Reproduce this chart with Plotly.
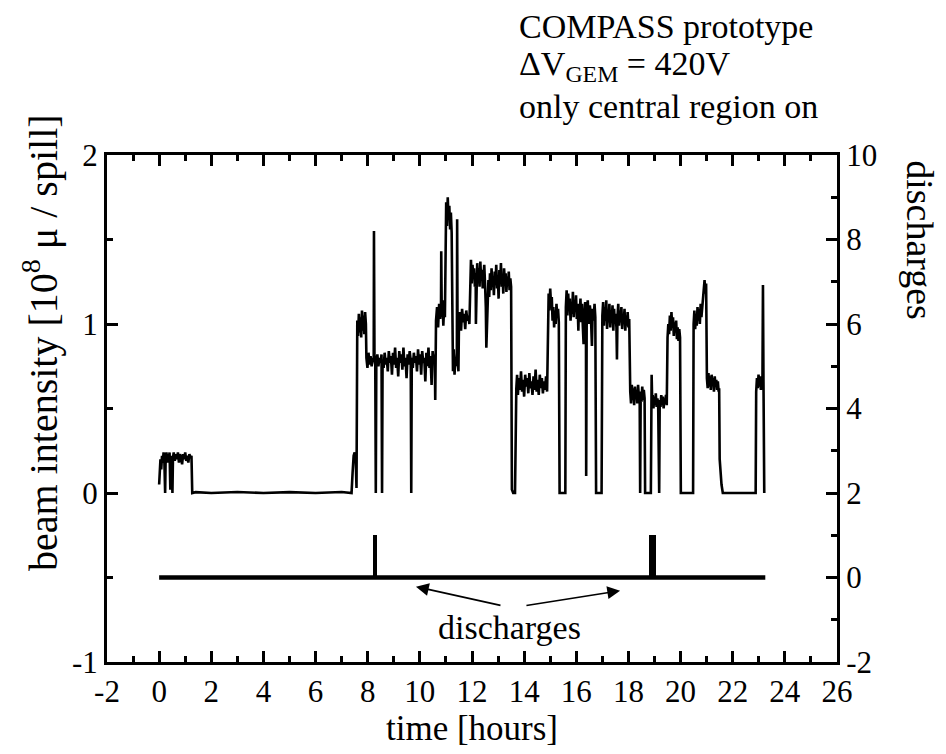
import plotly.graph_objects as go

# ---------------- data ----------------
# beam intensity [1e8 mu / spill] vs time [hours]
beam_trace = [
    (0.00, 0.05), (0.02, 0.17), (0.05, 0.20), (0.08, 0.14), (0.11, 0.22), (0.14, 0.18), (0.17, 0.24),
    (0.20, 0.19), (0.23, 0.00), (0.25, 0.21), (0.28, 0.24), (0.31, 0.18), (0.34, 0.23), (0.37, 0.20),
    (0.40, 0.24), (0.43, 0.02), (0.45, 0.22), (0.48, 0.19), (0.51, 0.00), (0.53, 0.21), (0.56, 0.24),
    (0.60, 0.19), (0.64, 0.23), (0.68, 0.20), (0.72, 0.24), (0.76, 0.18), (0.80, 0.23), (0.84, 0.21),
    (0.88, 0.17), (0.92, 0.23), (0.96, 0.20), (1.00, 0.24), (1.04, 0.19), (1.08, 0.22), (1.12, 0.18),
    (1.16, 0.23), (1.20, 0.21), (1.24, 0.22), (1.27, 0.00),
    (1.40, 0.005), (2.00, 0.00), (3.00, 0.006), (4.00, 0.00), (5.00, 0.005), (6.00, 0.00), (7.00, 0.006),
    (7.38, 0.00), (7.42, 0.12), (7.46, 0.22), (7.50, 0.24), (7.54, 0.20), (7.57, 0.03),
    (7.60, 1.02), (7.63, 0.93), (7.66, 1.06), (7.69, 0.95), (7.72, 1.04), (7.75, 0.92), (7.78, 1.08),
    (7.81, 0.96), (7.84, 1.05), (7.87, 0.94), (7.90, 1.07), (7.93, 1.00),
    (7.95, 0.80), (7.99, 0.74), (8.03, 0.83), (8.07, 0.76), (8.11, 0.81), (8.15, 0.75), (8.19, 0.80),
    (8.23, 0.78), (8.24, 1.55), (8.26, 0.79), (8.29, 0.76), (8.31, 0.00), (8.33, 0.78), (8.37, 0.82),
    (8.41, 0.75), (8.45, 0.80), (8.49, 0.77), (8.53, 0.82), (8.55, 0.00), (8.57, 0.79), (8.61, 0.74),
    (8.65, 0.83), (8.69, 0.76), (8.73, 0.80), (8.77, 0.72), (8.81, 0.84), (8.85, 0.77), (8.89, 0.81),
    (8.93, 0.70), (8.97, 0.83), (9.01, 0.76), (9.05, 0.86), (9.09, 0.74), (9.13, 0.80), (9.17, 0.69),
    (9.21, 0.84), (9.25, 0.77), (9.29, 0.82), (9.33, 0.73), (9.37, 0.86), (9.41, 0.75), (9.45, 0.80),
    (9.49, 0.68), (9.53, 0.82), (9.57, 0.76), (9.61, 0.84), (9.65, 0.78), (9.67, 0.00), (9.69, 0.80),
    (9.73, 0.74), (9.77, 0.83), (9.81, 0.77), (9.85, 0.81), (9.89, 0.72), (9.93, 0.85), (9.97, 0.76),
    (10.01, 0.82), (10.05, 0.70), (10.09, 0.84), (10.13, 0.77), (10.17, 0.80), (10.21, 0.66),
    (10.25, 0.83), (10.29, 0.75), (10.33, 0.86), (10.37, 0.74), (10.41, 0.81), (10.45, 0.64),
    (10.49, 0.84), (10.53, 0.77), (10.57, 0.82), (10.59, 0.55), (10.60, 0.76),
    (10.62, 1.02), (10.66, 1.10), (10.70, 0.98), (10.74, 1.12), (10.78, 1.03), (10.81, 1.08),
    (10.82, 1.43), (10.84, 1.05), (10.87, 1.14), (10.90, 0.99), (10.93, 1.10), (10.96, 1.04),
    (10.98, 1.60), (11.01, 1.72), (11.04, 1.58), (11.07, 1.75), (11.10, 1.62), (11.13, 1.70),
    (11.16, 1.56), (11.19, 1.66), (11.22, 1.54),
    (11.24, 0.82), (11.27, 0.72), (11.30, 0.85), (11.33, 0.70), (11.36, 0.80), (11.39, 0.75),
    (11.42, 0.83), (11.43, 1.62), (11.45, 0.78), (11.48, 0.72),
    (11.50, 1.00), (11.54, 1.07), (11.58, 0.96), (11.62, 1.09), (11.66, 1.01), (11.70, 1.06),
    (11.74, 0.97), (11.78, 1.08), (11.82, 1.02), (11.86, 1.05), (11.90, 1.00),
    (11.93, 1.30), (11.96, 1.38), (11.99, 1.24), (12.02, 1.35), (12.05, 1.27), (12.08, 1.33),
    (12.11, 1.22), (12.14, 1.30), (12.15, 1.00), (12.17, 1.28), (12.20, 1.36), (12.23, 1.25),
    (12.26, 1.33), (12.29, 1.22), (12.32, 1.37), (12.35, 1.26), (12.38, 1.32), (12.41, 1.21),
    (12.44, 1.29), (12.47, 1.35), (12.50, 1.24), (12.53, 1.10), (12.55, 0.86), (12.57, 0.95),
    (12.60, 1.18),
    (12.63, 1.26), (12.66, 1.16), (12.69, 1.30), (12.72, 1.20), (12.75, 1.33), (12.78, 1.22),
    (12.81, 1.28), (12.84, 1.17), (12.87, 1.31), (12.90, 1.23), (12.93, 1.35), (12.96, 1.21),
    (12.99, 1.29), (13.02, 1.15), (13.05, 1.32), (13.08, 1.24), (13.11, 1.36), (13.14, 1.22),
    (13.17, 1.29), (13.20, 1.18), (13.23, 1.33), (13.26, 1.25), (13.29, 1.30), (13.32, 1.19),
    (13.35, 1.28), (13.38, 1.23), (13.41, 1.31), (13.44, 1.20), (13.47, 1.27), (13.50, 1.22),
    (13.53, 0.02), (13.58, 0.00), (13.65, 0.00),
    (13.70, 0.62), (13.73, 0.70), (13.76, 0.58), (13.80, 0.68), (13.84, 0.61), (13.88, 0.72),
    (13.92, 0.60), (13.96, 0.67), (14.00, 0.57), (14.04, 0.70), (14.08, 0.63), (14.12, 0.68),
    (14.16, 0.59), (14.20, 0.71), (14.24, 0.62), (14.28, 0.66), (14.32, 0.58), (14.36, 0.69),
    (14.40, 0.61), (14.44, 0.73), (14.48, 0.60), (14.52, 0.67), (14.56, 0.58), (14.60, 0.70),
    (14.64, 0.62), (14.68, 0.68), (14.72, 0.59), (14.76, 0.66), (14.80, 0.61), (14.84, 0.69),
    (14.88, 0.60),
    (14.91, 1.05), (14.94, 1.18), (14.97, 1.08), (15.00, 1.21), (15.03, 1.12), (15.06, 1.16),
    (15.09, 1.02), (15.12, 1.10), (15.15, 0.98), (15.18, 1.08), (15.21, 1.00), (15.24, 1.12),
    (15.27, 1.04), (15.30, 1.09), (15.33, 1.01),
    (15.36, 0.00), (15.45, 0.00), (15.58, 0.00),
    (15.60, 1.10), (15.63, 1.20), (15.66, 1.05), (15.69, 1.18), (15.72, 1.08), (15.75, 1.15),
    (15.78, 1.02), (15.81, 1.13), (15.84, 1.06), (15.87, 1.19), (15.90, 1.04), (15.93, 1.14),
    (15.96, 1.08), (15.99, 1.17), (16.02, 1.03), (16.05, 1.12), (16.08, 0.96), (16.10, 1.10),
    (16.13, 1.05), (16.16, 1.15), (16.19, 1.01), (16.22, 1.12), (16.25, 0.99), (16.28, 0.88),
    (16.31, 1.04), (16.34, 1.13), (16.37, 1.08), (16.38, 0.10), (16.40, 1.06), (16.44, 1.14),
    (16.48, 1.00), (16.52, 1.11), (16.56, 1.05), (16.60, 0.87), (16.63, 1.09), (16.66, 1.02),
    (16.70, 1.12), (16.73, 1.04), (16.76, 0.00), (16.85, 0.00), (16.97, 0.00),
    (17.00, 1.05), (17.03, 1.13), (17.06, 0.99), (17.09, 1.10), (17.12, 1.02), (17.15, 1.14),
    (17.18, 0.97), (17.21, 1.08), (17.24, 1.01), (17.27, 1.12), (17.30, 0.98), (17.33, 1.07),
    (17.36, 1.03), (17.39, 1.11), (17.42, 0.96), (17.45, 1.09), (17.48, 1.00), (17.51, 1.06),
    (17.54, 0.98), (17.56, 0.79), (17.58, 1.04), (17.61, 1.12), (17.64, 0.99), (17.67, 1.08),
    (17.70, 1.01), (17.73, 1.10), (17.76, 0.97), (17.79, 1.06), (17.82, 1.00), (17.85, 1.09),
    (17.88, 0.96), (17.91, 1.05), (17.94, 0.99), (17.97, 1.07), (18.00, 0.98), (18.03, 1.03),
    (18.07, 0.60), (18.10, 0.53), (18.13, 0.64), (18.16, 0.55), (18.19, 0.62), (18.22, 0.52),
    (18.25, 0.63), (18.28, 0.56), (18.31, 0.61), (18.34, 0.53), (18.37, 0.64), (18.40, 0.57),
    (18.43, 0.60), (18.45, 0.00), (18.47, 0.58), (18.50, 0.54), (18.53, 0.63), (18.56, 0.55),
    (18.59, 0.61), (18.62, 0.56), (18.64, 0.00), (18.70, 0.00), (18.86, 0.00), (18.89, 0.70),
    (18.91, 0.55),
    (18.93, 0.58), (18.96, 0.50), (18.99, 0.57), (19.02, 0.52), (19.05, 0.59), (19.08, 0.51),
    (19.11, 0.56), (19.14, 0.53), (19.18, 0.00), (19.20, 0.55), (19.23, 0.51), (19.26, 0.58),
    (19.29, 0.52), (19.32, 0.57), (19.35, 0.50), (19.38, 0.56), (19.41, 0.53), (19.44, 0.58),
    (19.47, 0.52),
    (19.50, 0.92), (19.53, 1.00), (19.56, 0.94), (19.59, 1.05), (19.62, 0.96), (19.65, 1.07),
    (19.68, 0.98), (19.71, 1.04), (19.74, 0.93), (19.77, 1.01), (19.80, 0.95), (19.83, 1.02),
    (19.86, 0.91), (19.89, 0.98), (19.92, 0.90), (19.95, 0.97), (19.98, 0.92),
    (20.01, 0.00), (20.25, 0.00), (20.48, 0.00),
    (20.50, 1.00), (20.53, 1.08), (20.56, 0.97), (20.59, 1.06), (20.62, 0.99), (20.65, 1.10),
    (20.68, 1.02), (20.71, 1.09), (20.74, 1.00), (20.77, 1.12), (20.80, 1.04), (20.83, 1.10),
    (20.86, 1.15), (20.89, 1.22), (20.92, 1.26), (20.95, 1.18), (20.98, 1.24),
    (21.01, 0.68), (21.04, 0.62), (21.07, 0.71), (21.10, 0.63), (21.13, 0.69), (21.16, 0.61),
    (21.19, 0.70), (21.22, 0.64), (21.25, 0.68), (21.28, 0.60), (21.31, 0.69), (21.34, 0.63),
    (21.37, 0.67), (21.40, 0.61), (21.43, 0.66), (21.46, 0.60), (21.48, 0.62), (21.50, 0.20),
    (21.57, 0.05), (21.62, 0.00), (22.00, 0.00), (22.50, 0.00), (22.88, 0.00),
    (22.90, 0.60), (22.93, 0.68), (22.96, 0.62), (22.99, 0.70), (23.02, 0.63), (23.05, 0.69),
    (23.08, 0.61), (23.11, 0.67), (23.14, 0.64), (23.16, 1.23), (23.18, 0.66), (23.21, 0.00),
]
beam_time = [p[0] for p in beam_trace]
beam_value = [p[1] for p in beam_trace]

# discharges (right axis)
run_time = [0.0, 23.25]
run_baseline = [0, 0]
discharge_time = [8.28, 18.88, 18.97]
discharge_count = [1, 1, 1]

# tick labels
x_ticks = [-2, 0, 2, 4, 6, 8, 10, 12, 14, 16, 18, 20, 22, 24, 26]
y_left_ticks = [-1, 0, 1, 2]
y_right_ticks = [-2, 0, 2, 4, 6, 8, 10]

FONT = "Times New Roman, Liberation Serif, serif"

fig = go.Figure()
fig.add_trace(go.Scatter(x=beam_time, y=beam_value, mode="lines",
                         line=dict(color="black", width=2.6), yaxis="y", showlegend=False))
fig.add_trace(go.Scatter(x=run_time, y=run_baseline, mode="lines",
                         line=dict(color="black", width=4.5), yaxis="y2", showlegend=False))
fig.add_trace(go.Bar(x=discharge_time, y=discharge_count, width=0.17,
                     marker=dict(color="black", line=dict(width=0)), yaxis="y2", showlegend=False))

axis_common = dict(showgrid=False, zeroline=False, showline=True, linecolor="black", linewidth=3,
                   ticks="inside", tickcolor="black", tickwidth=3, ticklen=11,
                   tickfont=dict(family=FONT, size=31, color="black"))

fig.update_layout(
    width=946, height=754,
    margin=dict(l=99, r=117, t=147, b=100),
    paper_bgcolor="white", plot_bgcolor="white",
    font=dict(family=FONT, color="black"),
    bargap=0,
    xaxis=dict(range=[-2, 26], tickvals=x_ticks, ticktext=[str(v) for v in x_ticks],
               mirror="ticks",
               minor=dict(dtick=1, ticks="inside", ticklen=6, tickwidth=3, tickcolor="black"),
               title=dict(text="time [hours]", font=dict(family=FONT, size=35), standoff=6),
               **axis_common),
    yaxis=dict(range=[-1, 2], tickvals=y_left_ticks, ticktext=[str(v) for v in y_left_ticks],
               minor=dict(dtick=0.5, ticks="inside", ticklen=6, tickwidth=3, tickcolor="black"),
               **axis_common),
    yaxis2=dict(range=[-2, 10], overlaying="y", side="right",
                tickvals=y_right_ticks, ticktext=[str(v) for v in y_right_ticks],
                minor=dict(dtick=1, ticks="inside", ticklen=6, tickwidth=3, tickcolor="black"),
                **axis_common),
)

ann_font = dict(family=FONT, size=34, color="black")
fig.add_annotation(text="beam intensity [10<sup>8</sup> μ / spill]", textangle=-90,
                   xref="paper", yref="paper", x=-0.092, y=0.631, showarrow=False,
                   xanchor="center", yanchor="middle", font=dict(family=FONT, size=40))
fig.add_annotation(text="discharges", textangle=90,
                   xref="paper", yref="paper", x=1.1137, y=0.832, showarrow=False,
                   xanchor="center", yanchor="middle", font=dict(family=FONT, size=38))
fig.add_annotation(text="COMPASS prototype", xref="paper", yref="paper", x=0.5616, y=1.2525,
                   xanchor="left", yanchor="middle", showarrow=False, font=ann_font)
fig.add_annotation(text="ΔV<sub>GEM</sub> = 420V", xref="paper", yref="paper", x=0.5616, y=1.1755,
                   xanchor="left", yanchor="middle", showarrow=False, font=ann_font)
fig.add_annotation(text="only central region on", xref="paper", yref="paper", x=0.5616, y=1.0966,
                   xanchor="left", yanchor="middle", showarrow=False, font=ann_font)
fig.add_annotation(text="discharges", xref="paper", yref="paper", x=0.5507, y=0.069,
                   xanchor="center", yanchor="middle", showarrow=False, font=ann_font)
# arrows pointing to the discharge marks
for head, tail in [((9.85, -0.554), (13.15, -0.667)), ((17.68, -0.578), (14.03, -0.667))]:
    fig.add_annotation(x=head[0], y=head[1], ax=tail[0], ay=tail[1], xref="x", yref="y",
                       axref="x", ayref="y", text="", showarrow=True, arrowhead=2,
                       arrowsize=1.6, arrowwidth=1.6, arrowcolor="black")

fig.write_html("out.html")
